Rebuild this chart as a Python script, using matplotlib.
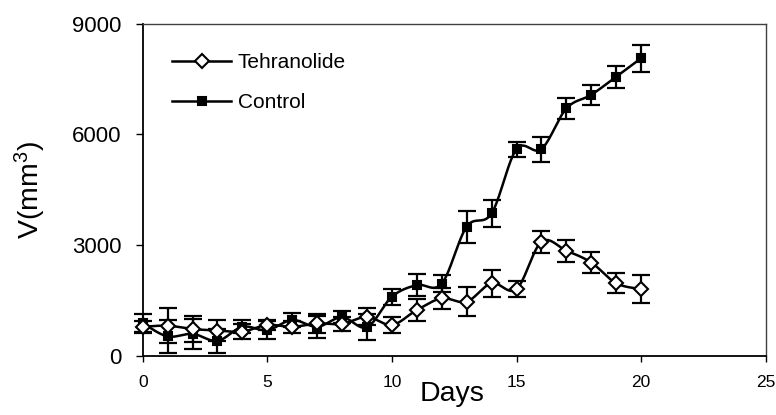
import numpy as np
import matplotlib
matplotlib.use("Agg")
import matplotlib.pyplot as plt
from matplotlib.lines import Line2D

plt.rcParams['font.family'] = ['Liberation Sans', 'DejaVu Sans']
plt.rcParams['mathtext.fontset'] = 'custom'
plt.rcParams['mathtext.rm'] = 'Liberation Sans'
plt.rcParams['mathtext.it'] = 'Liberation Sans:italic'

days = list(range(0, 21))
tehranolide = [790, 820, 730, 690, 660, 840, 790, 880, 870, 1060, 840, 1245, 1560, 1470, 1970, 1810, 3090, 2850, 2530, 1970, 1810]
tehranolide_err = [150, 470, 350, 290, 205, 140, 160, 270, 180, 230, 205, 295, 290, 395, 360, 210, 295, 300, 280, 270, 370]
control = [885, 530, 600, 410, 790, 700, 975, 790, 1050, 780, 1605, 1920, 1960, 3500, 3860, 5600, 5600, 6700, 7070, 7560, 8060]
control_err = [250, 440, 415, 330, 180, 250, 180, 290, 170, 345, 215, 295, 225, 430, 360, 200, 340, 275, 270, 295, 365]

x_ticks = [0, 5, 10, 15, 20, 25]
y_ticks = [0, 3000, 6000, 9000]


def smooth(x, y, n=30):
    x = np.asarray(x, float)
    y = np.asarray(y, float)
    xs, ys = [], []
    m = len(x)
    for i in range(m - 1):
        p0 = i - 1 if i > 0 else i
        p3 = i + 2 if i + 2 < m else i + 1
        c1x = x[i] + (x[i + 1] - x[p0]) / 6.0
        c1y = y[i] + (y[i + 1] - y[p0]) / 6.0
        c2x = x[i + 1] - (x[p3] - x[i]) / 6.0
        c2y = y[i + 1] - (y[p3] - y[i]) / 6.0
        t = np.linspace(0, 1, n, endpoint=(i == m - 2))
        b0 = (1 - t) ** 3
        b1 = 3 * (1 - t) ** 2 * t
        b2 = 3 * (1 - t) * t ** 2
        b3 = t ** 3
        xs.append(b0 * x[i] + b1 * c1x + b2 * c2x + b3 * x[i + 1])
        ys.append(b0 * y[i] + b1 * c1y + b2 * c2y + b3 * y[i + 1])
    return np.concatenate(xs), np.concatenate(ys)


fig = plt.figure(figsize=(7.76, 4.15), dpi=100)
ax = fig.add_axes([142.7 / 776, 1 - 356 / 415, 623 / 776, 332.5 / 415])

lw = 1.8
for vals, errs, mk, ms, fc in [
    (control, control_err, 's', 5.8, 'black'),
    (tehranolide, tehranolide_err, 'D', 7, 'white'),
]:
    sx, sy = smooth(days, vals)
    ax.plot(sx, sy, color='black', lw=lw, zorder=2, clip_on=False)
    ax.errorbar(days, vals, yerr=errs, fmt='none', ecolor='black', elinewidth=1.6,
                capsize=6.5, capthick=1.6, zorder=3, clip_on=False)
    ax.plot(days, vals, linestyle='none', marker=mk, ms=ms, mfc=fc, mec='black',
            mew=1.5, zorder=4, clip_on=False)

ax.set_xlim(0, 25)
ax.set_ylim(0, 9000)
ax.set_xticks(x_ticks)
ax.set_yticks(y_ticks)
ax.tick_params(axis='x', direction='out', length=4, width=1, labelsize=12.5, pad=10)
ax.tick_params(axis='y', direction='out', length=5, width=1, labelsize=16, pad=10)

for s in ['left', 'bottom']:
    ax.spines[s].set_linewidth(1.3)
    ax.spines[s].set_color('black')
for s in ['top', 'right']:
    ax.spines[s].set_linewidth(1.0)
    ax.spines[s].set_color('#404040')

ax.set_xlabel('Days', fontsize=20.5)
ax.xaxis.set_label_coords(0.4965, -0.075)
ax.set_ylabel(r'V(mm$^\mathregular{3}$)', fontsize=20.5)
ax.yaxis.set_label_coords(-0.152, 0.5)

handles = [
    Line2D([], [], color='black', lw=lw, marker='D', ms=7, mfc='white', mec='black', mew=1.5),
    Line2D([], [], color='black', lw=lw, marker='s', ms=5.8, mfc='black', mec='black', mew=1.5),
]
ax.legend(handles, ['Tehranolide', 'Control'], loc='upper left',
          bbox_to_anchor=(0.047, 0.91), frameon=False, fontsize=15,
          borderpad=0, borderaxespad=0, handlelength=2.85, handletextpad=0.3,
          labelspacing=1.0, numpoints=1)

fig.savefig('out.png', dpi=100)
